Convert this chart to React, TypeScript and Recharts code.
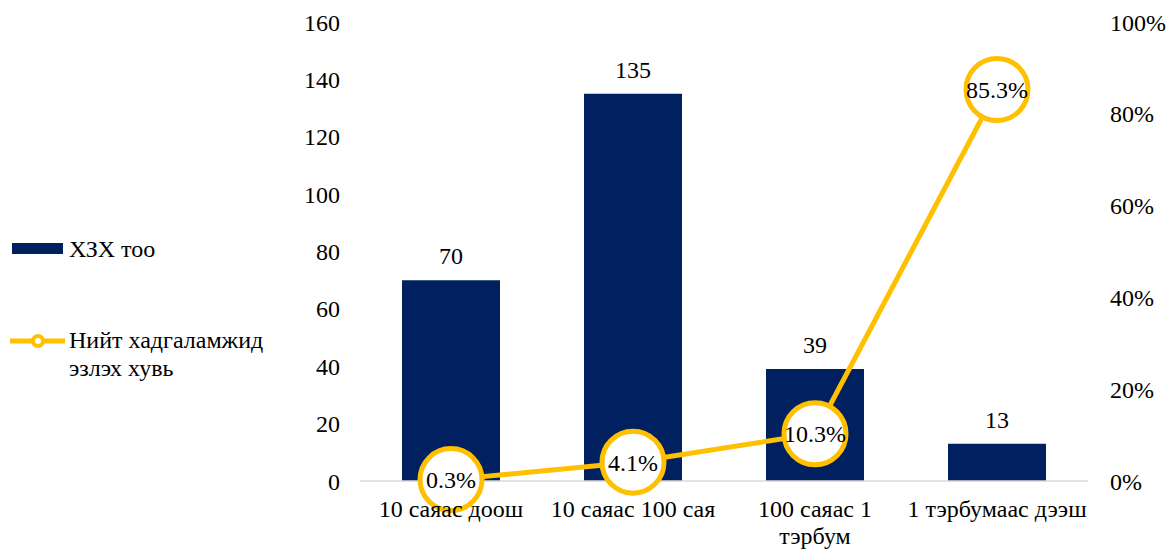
import React from 'react';
import { ComposedChart, Bar, Line, XAxis, YAxis, LabelList } from 'recharts';

const categories = ['10 саяас доош', '10 саяас 100 сая', '100 саяас 1\nтэрбум', '1 тэрбумаас дээш'];
const counts = [70, 135, 39, 13];
const shares = [0.3, 4.1, 10.3, 85.3];
const leftTicks = [0, 20, 40, 60, 80, 100, 120, 140, 160];
const rightTicks = [0, 20, 40, 60, 80, 100];
const seriesNames = ['ХЗХ тоо', 'Нийт хадгаламжид эзлэх хувь'];

const BAR_COLOR = '#002060';
const LINE_COLOR = '#FFC000';
const FONT = 'Liberation Serif';
const FS = 24;

const data = categories.map((c, i) => ({ name: c, count: counts[i], share: shares[i] }));

const XTick = (props: any) => {
  const { x, y, payload } = props;
  const lines = String(payload.value).split('\n');
  return (
    <text x={x} y={y} textAnchor="middle" fill="#000" fontSize={FS} fontFamily={FONT}>
      {lines.map((l, i) => (
        <tspan key={i} x={x} dy={i === 0 ? 28 : 27}>{l}</tspan>
      ))}
    </text>
  );
};

const Dot = (props: any) => {
  const { cx, cy } = props;
  if (cx == null || cy == null) return null;
  return <circle cx={cx} cy={cy} r={31} fill="#fff" stroke={LINE_COLOR} strokeWidth={5} />;
};

export default function App() {
  return (
    <div style={{ position: 'absolute', left: 0, top: 0, width: 1166, height: 550, fontFamily: FONT, background: '#fff' }}>
      <ComposedChart width={1166} height={550} data={data} margin={{ top: 22, right: 18, bottom: 0, left: 300 }}>
        <XAxis
          dataKey="name"
          xAxisId="x"
          height={69}
          axisLine={{ stroke: '#d9d9d9', strokeWidth: 1.5 }}
          tickLine={false}
          tick={<XTick />}
          interval={0}
        />
        <YAxis
          yAxisId="left"
          orientation="left"
          width={60}
          domain={[0, 160]}
          ticks={leftTicks}
          axisLine={false}
          tickLine={false}
          tickSize={6}
          tickMargin={14}
          tick={{ fill: '#000', fontSize: FS, fontFamily: FONT }}
        />
        <YAxis
          yAxisId="right"
          orientation="right"
          width={60}
          domain={[0, 100]}
          ticks={rightTicks}
          axisLine={false}
          tickLine={false}
          tickSize={6}
          tickMargin={16}
          tickFormatter={(v: number) => `${v}%`}
          tick={{ fill: '#000', fontSize: FS, fontFamily: FONT, textAnchor: 'start' }}
        />
        <Bar dataKey="count" xAxisId="x" yAxisId="left" fill={BAR_COLOR} barSize={98} isAnimationActive={false} name={seriesNames[0]}>
          <LabelList dataKey="count" position="top" offset={16} fill="#000" fontSize={FS} fontFamily={FONT} />
        </Bar>
        <Line
          dataKey="share"
          xAxisId="x"
          yAxisId="right"
          stroke={LINE_COLOR}
          strokeWidth={5}
          dot={<Dot />}
          activeDot={false}
          isAnimationActive={false}
          name={seriesNames[1]}
          type="linear"
        >
          <LabelList
            dataKey="share"
            position="center"
            fill="#000"
            fontSize={FS}
            fontFamily={FONT}
            formatter={(v: any) => `${Number(v).toFixed(1)}%`}
          />
        </Line>
      </ComposedChart>
      <div style={{ position: 'absolute', left: 12, top: 235, width: 300, fontSize: FS, color: '#000', lineHeight: '28px' }}>
        <div style={{ display: 'flex', alignItems: 'flex-start' }}>
          <svg width={57} height={28} style={{ flex: 'none' }}>
            <rect x={0} y={8} width={51} height={11} fill={BAR_COLOR} />
          </svg>
          <span>{seriesNames[0]}</span>
        </div>
        <div style={{ display: 'flex', alignItems: 'flex-start', marginTop: 63, marginLeft: -2 }}>
          <svg width={59} height={28} style={{ flex: 'none' }}>
            <line x1={0} y1={15} x2={55} y2={15} stroke={LINE_COLOR} strokeWidth={5} />
            <circle cx={28} cy={15} r={5} fill="#fff" stroke={LINE_COLOR} strokeWidth={4} />
          </svg>
          <span style={{ width: 220 }}>{seriesNames[1]}</span>
        </div>
      </div>
    </div>
  );
}
